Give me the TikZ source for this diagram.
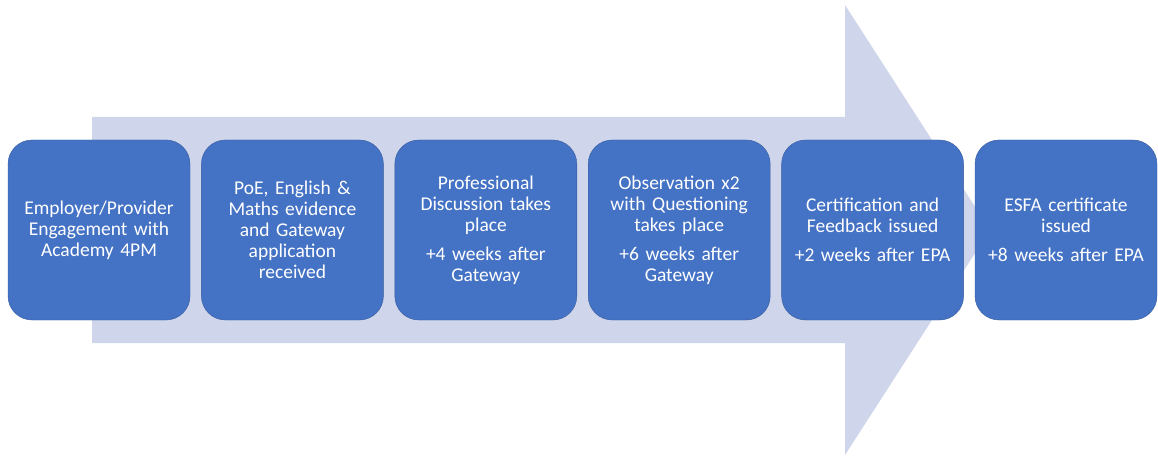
\documentclass[tikz,border=0pt]{standalone}
\usepackage{fontspec}
\setmainfont{Carlito}
\usetikzlibrary{positioning}
\definecolor{boxblue}{HTML}{4472C4}
\definecolor{arrowgrey}{HTML}{CFD5EA}
\tikzset{stage/.style={rectangle, fill=boxblue, draw=boxblue!80!black, rounded corners=24pt,
    minimum width=182pt, minimum height=180pt, text width=176pt, align=center,
    text=white, font=\fontsize{19.5}{21}\selectfont, inner sep=0pt}}
\begin{document}
\begin{tikzpicture}[x=1pt, y=1pt, node distance=11pt]
    \useasboundingbox (0,0) rectangle (1158,461);
    % Background arrow
    \fill [arrowgrey] (92,118) -- (845,118) -- (845,6) -- (990,231) -- (845,456)
        -- (845,344) -- (92,344) -- cycle;
    % Place nodes
    \node [stage] (engage) at (99,231) {Employer/Provider\\Engagement with\\Academy 4PM};
    \node [stage, right=of engage] (gateway) {PoE, English \&\\Maths evidence\\and Gateway\\application\\received};
    \node [stage, right=of gateway] (discuss) {Professional\\Discussion takes\\place\\[8pt]+4 weeks after\\Gateway};
    \node [stage, right=of discuss] (observe) {Observation x2\\with Questioning\\takes place\\[8pt]+6 weeks after\\Gateway};
    \node [stage, right=of observe] (feedback) {Certification and\\Feedback issued\\[8pt]+2 weeks after EPA};
    \node [stage, right=of feedback] (esfa) {ESFA certificate\\issued\\[8pt]+8 weeks after EPA};
\end{tikzpicture}
\end{document}
